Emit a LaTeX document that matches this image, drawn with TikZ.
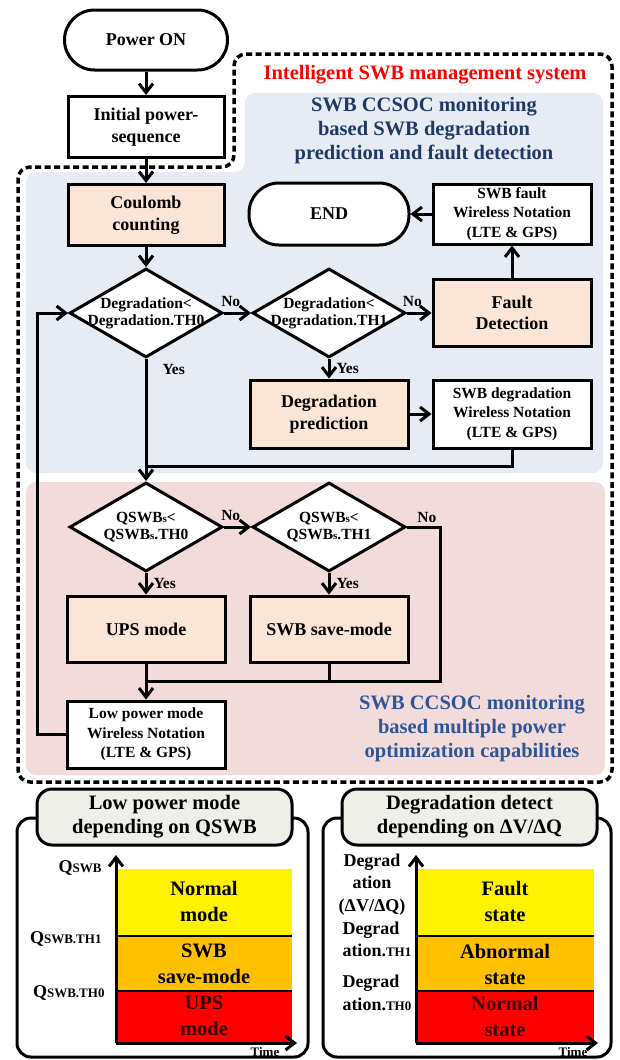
\documentclass[tikz,border=0pt]{standalone}
\usepackage{fontspec}
\setmainfont{Liberation Serif}
\usepackage{tikz}
\usetikzlibrary{shapes.geometric,arrows.meta}

\definecolor{peach}{HTML}{FBE5D6}
\definecolor{bluebg}{HTML}{E7EBF3}
\definecolor{pinkbg}{HTML}{F1DCDB}
\definecolor{navy}{HTML}{1F3864}
\definecolor{midblue}{HTML}{2F5597}
\definecolor{titlegray}{HTML}{EDEFE8}
\definecolor{bandorange}{HTML}{FFC000}
\definecolor{darkred}{HTML}{3A0000}

\newcommand{\fbig}{\fontsize{18}{21.5}\selectfont\bfseries}
\newcommand{\fnote}{\fontsize{15.5}{19.5}\selectfont\bfseries}
\newcommand{\fdia}{\fontsize{15.5}{17}\selectfont\bfseries}
\newcommand{\ftitle}{\fontsize{20.5}{24}\selectfont\bfseries}
\newcommand{\fband}{\fontsize{20.5}{26}\selectfont\bfseries}
\newcommand{\faxis}{\fontsize{18}{22.5}\selectfont\bfseries}
\newcommand{\fsub}{\fontsize{13}{13}\selectfont}
\newcommand{\fs}{\fontsize{11}{11}\selectfont}
\newcommand{\ftime}{\fontsize{13}{13}\selectfont\bfseries}

\begin{document}
\begin{tikzpicture}[x=1pt,y=-1pt,line width=3pt,
	>={Straight Barb[length=9pt,width=14pt]},
	term/.style={draw,fill=white,rounded corners=30pt,minimum width=163pt,minimum height=60pt,font=\fbig},
	proc/.style={draw,fill=white,minimum width=156pt,minimum height=61pt,align=center,font=\fbig},
	note/.style={draw,fill=white,minimum width=158pt,minimum height=62pt,align=center,font=\fnote,inner sep=1pt},
	decision/.style={draw,diamond,fill=white,minimum width=153pt,minimum height=89pt,inner sep=0pt},
	dtext/.style={align=center,font=\fdia,inner sep=0pt},
	yn/.style={font=\fdia,inner sep=1pt},
	border/.style={line width=3.5pt,dash pattern=on 6pt off 3.5pt,rounded corners=12pt},
	ptitle/.style={draw,fill=titlegray,rounded corners=15pt,minimum width=255pt,minimum height=56pt,align=center,font=\ftitle,inner sep=2pt},
	band/.style={align=center,font=\fband},
	axlabel/.style={font=\faxis,inner sep=0pt}]
	\useasboundingbox (0,0) rectangle (619,1060);

	\fill[bluebg,rounded corners=10pt] (245,93) -- (603,93) -- (603,473) -- (26,473) -- (26,172) -- (245,172) -- cycle;
	\fill[pinkbg,rounded corners=10pt] (26,482) rectangle (605,775);
	\draw[border] (234,54) -- (612,54) -- (612,782) -- (18,782) -- (18,167) -- (234,167) -- cycle;

	\node[text=red,font=\ftitle] (systitle) at (425,75) {Intelligent SWB management system};
	\node[text=navy,font=\ftitle,align=center] (degtitle) at (424,131) {SWB CCSOC monitoring\\based SWB degradation\\prediction and fault detection};
	\node[text=midblue,font=\ftitle,align=center] (pwrtitle) at (472,729) {SWB CCSOC monitoring\\based multiple power\\optimization capabilities};

	\node[term] (pon) at (146,40) {Power ON};
	\node[proc] (ips) at (146,127) {Initial power-\\sequence};
	\node[proc,fill=peach] (cc) at (146,215) {Coulomb\\counting};
	\node[term,minimum width=160pt,minimum height=62pt] (end) at (329,214) {END};
	\node[note,minimum height=60pt] (fwn) at (512,214) {SWB fault\\Wireless Notation\\(LTE \& GPS)};
	\node[decision,label={[dtext]center:Degradation<\\Degradation.TH0}] (d1) at (146,313) {};
	\node[decision,label={[dtext]center:Degradation<\\Degradation.TH1}] (d2) at (329,313) {};
	\node[proc,fill=peach,minimum width=158pt,minimum height=67pt] (fd) at (512,313) {Fault\\Detection};
	\node[proc,fill=peach,minimum width=158pt,minimum height=68pt] (dp) at (329,414) {Degradation\\prediction};
	\node[note,minimum height=68pt] (dwn) at (512,414) {SWB degradation\\Wireless Notation\\(LTE \& GPS)};
	\node[decision,label={[dtext]center:QSWB{\fs s}<\\QSWB{\fs s}.TH0}] (d3) at (146,527) {};
	\node[decision,label={[dtext]center:QSWB{\fs s}<\\QSWB{\fs s}.TH1}] (d4) at (329,527) {};
	\node[proc,fill=peach,minimum width=158pt,minimum height=66pt] (ups) at (146,629) {UPS mode};
	\node[proc,fill=peach,minimum width=158pt,minimum height=66pt] (swbs) at (329,629) {SWB save-mode};
	\node[note,minimum height=67pt] (lpm) at (146,734.5) {Low power mode\\Wireless Notation\\(LTE \& GPS)};

	\coordinate (j1) at (146,466);
	\coordinate (j2) at (146,681);
	\coordinate (nobend) at (440,527);
	\coordinate (loopx) at (37,0);

	\draw[->] (pon) -- (ips);
	\draw[->] (ips) -- (cc);
	\draw[->] (cc) -- (d1);
	\draw[->] (d1.east) -- node[yn,pos=0.25,above=4pt] {No} (d2.west);
	\draw[->] (d2.east) -- node[yn,pos=0.22,above=4pt] {No} (fd.west);
	\draw[->] (fd) -- (fwn);
	\draw[->] (fwn) -- (end);
	\draw[->] (d2) -- node[yn,right=5pt] {Yes} (dp);
	\draw[->] (dp) -- (dwn);
	\draw (dwn.south) |- (j1);
	\draw[->] (d1.south) -- node[yn,pos=0.09,right=14pt] {Yes} (d3.north);
	\draw[->] (d3.east) -- node[yn,pos=0.25,above=4pt] {No} (d4.west);
	\draw[->] (d3) -- node[yn,right=5pt] {Yes} (ups);
	\draw[->] (d4) -- node[yn,right=5pt] {Yes} (swbs);
	\draw (d4.east) -- node[yn,pos=0.6,above=2pt] {No} (nobend) |- (j2);
	\draw (swbs) -- (swbs.south |- j2);
	\draw[->] (ups) -- (lpm);
	\draw[->] (lpm.west) -- (lpm.west -| loopx) |- (d1.west);

	\draw[rounded corners=14pt] (17,818) rectangle (308,1057);
	\node[ptitle] (lpt) at (164.5,817) {Low power mode\\depending on QSWB};
	\fill[yellow] (116,869) rectangle (292,936);
	\fill[bandorange] (116,936) rectangle (292,991);
	\fill[red] (116,991) rectangle (292,1043);
	\draw[line width=2pt] (116,936) -- (292,936) (116,991) -- (292,991);
	\coordinate (lo) at (116,1043);
	\coordinate (ltop) at (116,855);
	\coordinate (lend) at (297,1043);
	\draw[->] (lo) -- (ltop);
	\draw[->] (lo) -- (lend);
	\node[band] (lnorm) at (204,901) {Normal\\mode};
	\node[band] (lsave) at (204,964) {SWB\\save-mode};
	\node[band,text=darkred] (lups) at (204,1016) {UPS\\mode};
	\node[axlabel,anchor=east] (lq) at (103,868) {Q{\fsub SWB}};
	\node[axlabel,anchor=east] (lq1) at (103,939) {Q{\fsub SWB.TH1}};
	\node[axlabel,anchor=east] (lq0) at (106,993) {Q{\fsub SWB.TH0}};
	\node[font=\ftime] (ltime) at (265,1052) {Time};

	\draw[rounded corners=14pt] (323,818) rectangle (611,1057);
	\node[ptitle] (dpt) at (469.5,817) {Degradation detect\\depending on ΔV/ΔQ};
	\fill[yellow] (416,869) rectangle (594,936);
	\fill[bandorange] (416,936) rectangle (594,991);
	\fill[red] (416,991) rectangle (594,1043);
	\draw[line width=2pt] (416,936) -- (594,936) (416,991) -- (594,991);
	\coordinate (ro) at (416,1043);
	\coordinate (rtop) at (416,855);
	\coordinate (rend) at (598,1043);
	\draw[->] (ro) -- (rtop);
	\draw[->] (ro) -- (rend);
	\node[band] (rfault) at (505,901) {Fault\\state};
	\node[band] (rabn) at (505,964) {Abnormal\\state};
	\node[band,text=darkred] (rnorm) at (505,1016) {Normal\\state};
	\node[axlabel,align=center] (rd) at (372,884.5) {Degrad\\ation\\(ΔV/ΔQ)};
	\node[axlabel,align=left,anchor=west] (rd1) at (341,939.5) {Degrad\\ation.{\fsub TH1}};
	\node[axlabel,align=left,anchor=west] (rd0) at (341,993) {Degrad\\ation.{\fsub TH0}};
	\node[font=\ftime] (rtime) at (573,1052) {Time};
\end{tikzpicture}
\end{document}
